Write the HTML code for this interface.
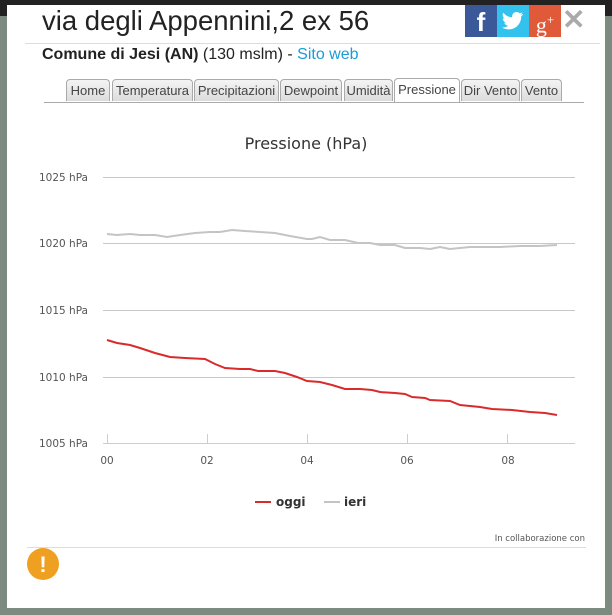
<!DOCTYPE html>
<html><head><meta charset="utf-8"><style>
body{margin:0;width:612px;height:615px;overflow:hidden;background:#7d8a80;font-family:"Liberation Sans",sans-serif;position:relative}
.top{position:absolute;left:0;top:0;width:612px;height:16px;background:#222}
.modal{position:absolute;left:7px;top:5px;width:598px;height:603px;background:#fff}
.ab{position:absolute}
.tab{position:absolute;top:79px;height:22px;border:1px solid #aaa;border-bottom:none;border-radius:4px 4px 0 0;background:linear-gradient(#f4f4f4,#dcdcdc);font-size:13px;color:#444;line-height:22px;text-align:center;box-sizing:border-box;white-space:nowrap;overflow:hidden}
.tab.on{background:#fff;height:24px;top:78px}
</style></head><body>
<div class="top"></div>
<div class="modal"></div>
<div class="ab" style="left:42px;top:5px;font-size:27.5px;color:#222">via degli Appennini,2 ex 56</div>
<div class="ab" style="left:465px;top:5px;width:32px;height:32px;background:#3b5998;color:#fff;font:bold 26px 'Liberation Sans';text-align:center;line-height:34px">f</div>
<div class="ab" style="left:497px;top:5px;width:32px;height:32px;background:#33c2ee"></div>
<svg class="ab" style="left:502px;top:11px" width="22" height="20" viewBox="0 0 22 20"><path d="M21 3c-.8.4-1.6.6-2.5.7.9-.5 1.6-1.4 1.9-2.4-.8.5-1.8.9-2.8 1.1C16.8 1.5 15.7 1 14.5 1c-2.4 0-4.4 2-4.4 4.4 0 .3 0 .7.1 1C6.6 6.200 3.400 4.500 1.300 1.800c-.4.600-.6 1.400-.6 2.200 0 1.500.8 2.900 2 3.700-.7 0-1.400-.2-2-.5 0 2.100 1.500 3.900 3.500 4.300-.4.100-.8.200-1.200.200-.3 0-.6 0-.8-.1.600 1.700 2.200 3 4.100 3C4.800 15.800 2.900 16.500.8 16.500H0c1.900 1.200 4.300 1.900 6.700 1.900 8.100 0 12.500-6.700 12.500-12.500v-.6c.8-.6 1.500-1.300 2-2.200z" fill="#fff"/></svg>
<div class="ab" style="left:529px;top:5px;width:32px;height:32px;background:#e05a3a;color:#fff;font:22px 'Liberation Serif';text-align:center;line-height:30px">g<sup style="font-size:13px">+</sup></div>
<div class="ab" style="left:562px;top:3px;font:bold 28px 'Liberation Sans';color:#aaa">✕</div>
<div class="ab" style="left:25px;top:43px;width:575px;height:1px;background:#ddd"></div>
<div class="ab" style="left:42px;top:46px;font-size:16px;color:#222"><b>Comune di Jesi (AN)</b> (130 mslm) - <span style="color:#1a9bd7">Sito web</span></div>
<div class="tab" style="left:66px;width:44px">Home</div>
<div class="tab" style="left:112px;width:81px">Temperatura</div>
<div class="tab" style="left:194px;width:85px">Precipitazioni</div>
<div class="tab" style="left:280px;width:62px">Dewpoint</div>
<div class="tab" style="left:344px;width:49px">Umidità</div>
<div class="tab on" style="left:394px;width:66px">Pressione</div>
<div class="tab" style="left:461px;width:59px">Dir Vento</div>
<div class="tab" style="left:521px;width:41px">Vento</div>
<div class="ab" style="left:44px;top:102px;width:540px;height:1px;background:#aaa"></div>
<svg class="ab" style="left:0;top:0" width="612" height="615">
<g font-family="DejaVu Sans, sans-serif">
<text x="306" y="149" text-anchor="middle" font-size="16" fill="#333">Pressione (hPa)</text>
<g stroke="#c8c8c8" stroke-width="1">
<line x1="103" y1="177.5" x2="575" y2="177.5"/><line x1="103" y1="243.5" x2="575" y2="243.5"/>
<line x1="103" y1="310.5" x2="575" y2="310.5"/><line x1="103" y1="377.5" x2="575" y2="377.5"/>
</g>
<line x1="103" y1="443.5" x2="575" y2="443.5" stroke="#c0d0e0"/>
<g stroke="#c0d0e0"><line x1="107.5" y1="434" x2="107.5" y2="443"/><line x1="207.5" y1="434" x2="207.5" y2="443"/><line x1="307.5" y1="434" x2="307.5" y2="443"/><line x1="407.5" y1="434" x2="407.5" y2="443"/><line x1="507.5" y1="434" x2="507.5" y2="443"/></g>
<g font-size="10.5" fill="#555" text-anchor="end">
<text x="88" y="181">1025 hPa</text><text x="88" y="247">1020 hPa</text><text x="88" y="314">1015 hPa</text><text x="88" y="381">1010 hPa</text><text x="88" y="447">1005 hPa</text>
</g>
<g font-size="10.5" fill="#555" text-anchor="middle">
<text x="107" y="464">00</text><text x="207" y="464">02</text><text x="307" y="464">04</text><text x="407" y="464">06</text><text x="508" y="464">08</text>
</g>
<polyline fill="none" stroke="#c4c4c4" stroke-width="2" points="107,234 117,235 130,234 140,235 155,235 167,237 180,235 195,233 210,232 220,232 232,230 245,231 260,232 275,233 290,236 307,239 312,239 320,237 330,240 345,240 358,243 370,243 380,245 395,245 405,248 420,248 430,249 440,247 450,249 460,248 470,247 480,247 500,247 520,246 540,246 557,245"/>
<polyline fill="none" stroke="#d92b2b" stroke-width="2" points="107,340 117,343 130,345 140,348 155,353 170,357 185,358 205,359 215,364 225,368 240,369 250,369 258,371 275,371 285,373 297,377 307,381 320,382 332,385 345,389 360,389 372,390 380,392 395,393 405,394 412,397 425,398 430,400 450,401 460,405 470,406 480,407 492,409 512,410 530,412 545,413 557,415"/>
<line x1="255" y1="502" x2="271" y2="502" stroke="#d92b2b" stroke-width="2"/>
<text x="276" y="506" font-size="12" font-weight="bold" fill="#333">oggi</text>
<line x1="324" y1="502" x2="340" y2="502" stroke="#c4c4c4" stroke-width="2"/>
<text x="344" y="506" font-size="12" font-weight="bold" fill="#333">ieri</text>
<text x="585" y="541" font-size="8.5" fill="#555" text-anchor="end">In collaborazione con</text>
</g>
<line x1="27" y1="547.5" x2="586" y2="547.5" stroke="#ddd"/>
<circle cx="43" cy="564" r="16" fill="#f0a020"/>
<text x="43" y="572" text-anchor="middle" font-family="Liberation Sans" font-weight="bold" font-size="22" fill="#fff">!</text>
</svg>
</body></html>
